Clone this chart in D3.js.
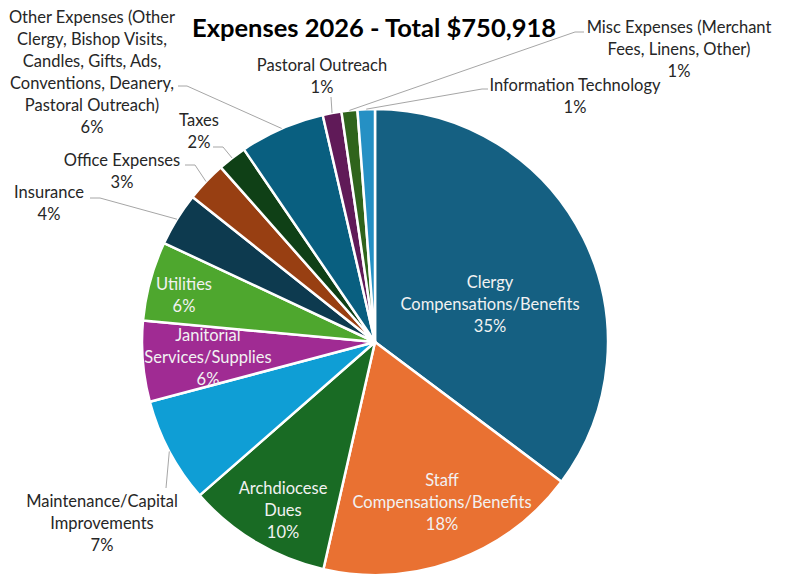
<!DOCTYPE html>
<html>
<head>
<meta charset="utf-8">
<script src="https://cdn.jsdelivr.net/npm/d3@7"></script>
<style>
  body { margin: 0; background: #fff; }
  text { font-family: Lato, "Noto Sans", sans-serif; }
</style>
</head>
<body>
<div id="chart"></div>
<script>
const title = "Expenses 2026 - Total $750,918";

const categories = [
  "Clergy Compensations/Benefits",
  "Staff Compensations/Benefits",
  "Archdiocese Dues",
  "Maintenance/Capital Improvements",
  "Janitorial Services/Supplies",
  "Utilities",
  "Insurance",
  "Office Expenses",
  "Taxes",
  "Other Expenses",
  "Pastoral Outreach",
  "Misc Expenses",
  "Information Technology"
];

// share of total (%)
const shares = [35.2, 18.3, 10.0, 7.3, 5.6, 5.5, 3.7, 2.8, 2.0, 5.9, 1.3, 1.1, 1.2];

const labelLines = [
  ["Clergy", "Compensations/Benefits"],
  ["Staff", "Compensations/Benefits"],
  ["Archdiocese", "Dues"],
  ["Maintenance/Capital", "Improvements"],
  ["Janitorial", "Services/Supplies"],
  ["Utilities"],
  ["Insurance"],
  ["Office Expenses"],
  ["Taxes"],
  ["Other Expenses (Other", "Clergy, Bishop Visits,", "Candles, Gifts, Ads,", "Conventions, Deanery,", "Pastoral Outreach)"],
  ["Pastoral Outreach"],
  ["Misc Expenses (Merchant", "Fees, Linens, Other)"],
  ["Information Technology"]
];

const colors = [
  "#156082", "#E97132", "#196B24", "#0F9ED5", "#A02B93", "#4EA72E",
  "#0D3A4F", "#983F12", "#0F4016", "#095F80", "#601A58", "#2F641C", "#2590C4"
];

// label placement (centre of text block) and leader elbows, Excel "best fit" style
const layout = [
  { x: 490, y: 304, inside: true },
  { x: 442, y: 502, inside: true },
  { x: 283, y: 510, inside: true },
  { x: 102, y: 523, leader: [[166, 488]] },
  { x: 208, y: 357, inside: true },
  { x: 184, y: 295, inside: true },
  { x: 49, y: 203, leader: [[100, 198], [90, 198]] },
  { x: 122, y: 171, leader: [[195, 165], [185, 165]] },
  { x: 199, y: 131, leader: [[223, 147], [213, 147]] },
  { x: 92, y: 72, leader: [[187, 86], [178, 86]] },
  { x: 322, y: 76, leader: [[331, 97]] },
  { x: 679, y: 49, leader: [[575, 32], [584, 32]] },
  { x: 575, y: 96, leader: [[482, 89], [488, 89]] }
];

const width = 791, height = 574;
const cx = 375, cy = 342, radius = 233;
const lineH = 22;

const svg = d3.select("#chart").append("svg")
  .attr("width", width)
  .attr("height", height);

const total = d3.sum(shares);
const data = categories.map((c, i) => ({
  name: c, value: shares[i], lines: labelLines[i], color: colors[i], lay: layout[i]
}));

const pie = d3.pie().sort(null).value(d => d.value);
const arc = d3.arc().innerRadius(0).outerRadius(radius);
const arcs = pie(data);

const g = svg.append("g").attr("transform", `translate(${cx},${cy})`);

g.selectAll("path")
  .data(arcs)
  .join("path")
  .attr("d", arc)
  .attr("fill", d => d.data.color)
  .attr("stroke", "#fff")
  .attr("stroke-width", 2.5)
  .attr("stroke-linejoin", "round");

// leader lines from the middle of each slice's rim
svg.selectAll("polyline.leader")
  .data(arcs.filter(d => d.data.lay.leader))
  .join("polyline")
  .attr("class", "leader")
  .attr("points", d => {
    const mid = (d.startAngle + d.endAngle) / 2;
    const p = [cx + radius * Math.sin(mid), cy - radius * Math.cos(mid)];
    return [p].concat(d.data.lay.leader).map(q => q.join(",")).join(" ");
  })
  .attr("fill", "none")
  .attr("stroke", "#A6A6A6")
  .attr("stroke-width", 1);

// labels
const lbl = svg.selectAll("text.lbl")
  .data(arcs)
  .join("text")
  .attr("class", "lbl")
  .attr("text-anchor", "middle")
  .attr("font-size", 16.5)
  .attr("fill", d => d.data.lay.inside ? "#F2F2F2" : "#262626");

lbl.each(function (d) {
  const lines = d.data.lines.concat([Math.round(d.value / total * 100) + "%"]);
  const y0 = d.data.lay.y - (lines.length - 1) * lineH / 2;
  d3.select(this).selectAll("tspan")
    .data(lines)
    .join("tspan")
    .attr("x", d.data.lay.x)
    .attr("y", (t, j) => y0 + j * lineH)
    .attr("dy", "0.35em")
    .text(t => t);
});

svg.append("text")
  .attr("x", 374)
  .attr("y", 37)
  .attr("text-anchor", "middle")
  .attr("font-size", 25.5)
  .attr("font-weight", "bold")
  .attr("fill", "#000")
  .text(title);
</script>
</body>
</html>
